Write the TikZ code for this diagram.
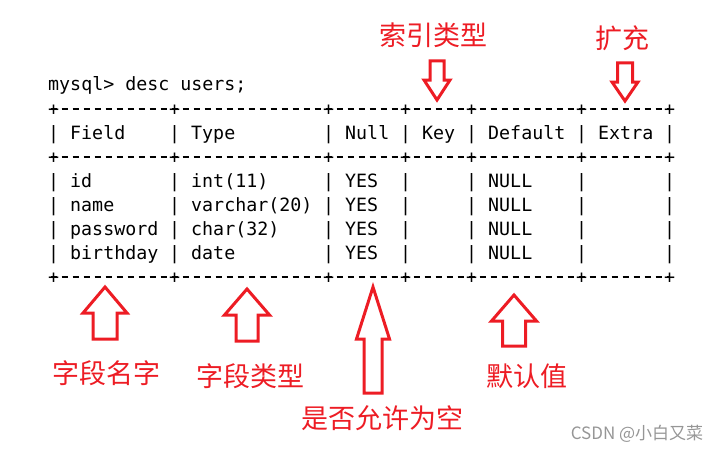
\documentclass[tikz,border=0pt]{standalone}
\usepackage{fontspec}
\setmonofont{DejaVu Sans Mono}
\newfontfamily\cjk{Noto Sans CJK SC}
\usepackage{tikz}
\definecolor{markred}{RGB}{237,28,36}
\definecolor{wmgray}{RGB}{150,150,150}
\tikzstyle{mono} = [anchor=base west, inner sep=0pt, font=\ttfamily\fontsize{18.3}{22}\selectfont]
\tikzstyle{label} = [text=markred, inner sep=0pt, font=\cjk\fontsize{27}{30}\selectfont]
\tikzstyle{hollow} = [draw=markred, line width=3pt, line join=miter]
\tikzstyle{rule} = [draw, line width=1.8pt, dash pattern=on 6.5pt off 4.5pt]
% x, tip y, head base y, end y, head half width, shaft half width
\newcommand{\blockarrow}[6]{%
  \draw[hollow] (#1,#2) -- ({#1+#5},#3) -- ({#1+#6},#3) -- ({#1+#6},#4)
    -- ({#1-#6},#4) -- ({#1-#6},#3) -- ({#1-#5},#3) -- cycle;}

\begin{document}
\begin{tikzpicture}[x=1pt, y=-1pt]
			\useasboundingbox (0,0) rectangle (720,452);
			\node [mono] (cmd) at (48,91) {mysql> desc users;};
			% border lines: dashes with a plus at each column
			\foreach \k in {1,3,8} {
				\coordinate (rowstart\k) at (50.5,85+24*\k);
				\coordinate (rowend\k) at (670,85+24*\k);
				\path [rule] (rowstart\k) -- (rowend\k);
				\foreach \c in {0,11,25,32,38,48,56}
					\node [mono] (plus\k-\c) at (48+11*\c,91+24*\k) {+};
			}
			\foreach \k in {2,4,5,6,7}
				\foreach \c in {0,11,25,32,38,48,56}
					\node [mono] (bar\k-\c) at (48+11*\c,91+24*\k) {|};
			% header row
			\foreach \t/\c in {Field/2, Type/13, Null/27, Key/34, Default/40, Extra/50}
				\node [mono] (head\c) at (48+11*\c,139) {\t};
			% data rows
			\foreach \f/\t [count=\r from 4] in {id/{int(11)}, name/{varchar(20)}, password/{char(32)}, birthday/date} {
				\node [mono] (field\r) at (48+11*2,91+24*\r) {\f};
				\node [mono] (type\r) at (48+11*13,91+24*\r) {\t};
				\node [mono] (null\r) at (48+11*27,91+24*\r) {YES};
				\node [mono] (default\r) at (48+11*40,91+24*\r) {NULL};
			}
			% notes
			\node [label] (keynote) at (433,35) {索引类型};
			\node [label] (extranote) at (622,38) {扩充};
			\node [label] (fieldnote) at (106,373) {字段名字};
			\node [label] (typenote) at (250,376) {字段类型};
			\node [label] (nullnote) at (382,418) {是否允许为空};
			\node [label] (defaultnote) at (527,376) {默认值};
			\node [text=wmgray, inner sep=0pt, font=\cjk\fontsize{17}{19}\selectfont] (mark) at (637,434) {CSDN @小白又菜};
			% arrows
			\blockarrow{437}{100}{80}{61}{13}{7}
			\blockarrow{625}{101}{82}{63}{13}{7.5}
			\blockarrow{105}{287}{313}{339}{22}{12}
			\blockarrow{247}{289}{315}{341}{22.5}{11}
			\blockarrow{373}{287}{339}{393}{16.5}{9}
			\blockarrow{514}{295}{321}{346}{22.5}{11.5}
\end{tikzpicture}
\end{document}
